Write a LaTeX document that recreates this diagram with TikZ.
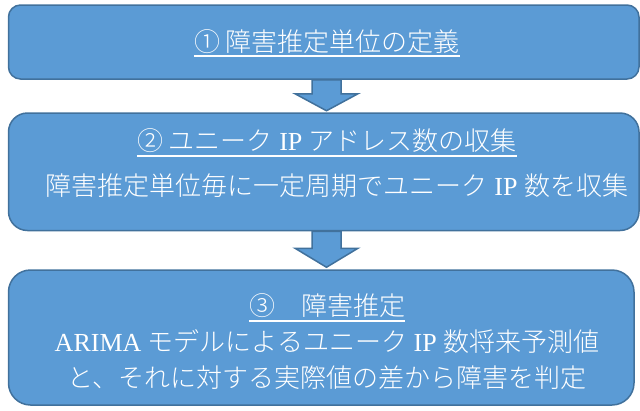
\documentclass[tikz,border=0pt]{standalone}
\usepackage{fontspec}
\setmainfont{Liberation Serif}
\newfontfamily\cjk{Noto Sans CJK JP Light}
\usetikzlibrary{calc}
\definecolor{boxfill}{HTML}{5B9BD5}
\definecolor{boxline}{HTML}{41719C}
\begin{document}
\begin{tikzpicture}[x=1pt,y=-1pt,
  box/.style={draw=boxline, fill=boxfill, line width=1.5pt, inner sep=0pt},
  txt/.style={text=white, inner sep=0pt, anchor=base, font=\fontsize{26}{30}\selectfont},
  uline/.style={white, line width=1.4pt},
  blockarrow/.style={draw=boxline, fill=boxfill, line width=1.5pt, line join=miter}]
\useasboundingbox (0,0) rectangle (640,410);
% boxes
\node[box, minimum width=630.5pt, minimum height=74pt, rounded corners=12pt] (b1) at (323.75,42) {};
\node[box, minimum width=630.5pt, minimum height=117.5pt, rounded corners=19pt] (b2) at (323.75,171.75) {};
\node[box, minimum width=625.5pt, minimum height=135pt, rounded corners=22pt] (b3) at (321.25,337.5) {};
% arrows
\draw[blockarrow] let \p1=($(b1.south)+(2.75,0)$), \p2=($(b2.north)+(2.75,-1.5)$) in
  (\x1-14.5pt,\y1) -- (\x1+14.5pt,\y1) -- (\x1+14.5pt,\y2+17pt) -- (\x1+31.5pt,\y2+17pt)
  -- (\x1,\y2) -- (\x1-31.5pt,\y2+17pt) -- (\x1-14.5pt,\y2+17pt) -- cycle;
\draw[blockarrow] let \p1=($(b2.south)+(2.75,0)$), \p2=($(b3.north)+(5.25,-2)$) in
  (\x1-14.5pt,\y1) -- (\x1+14.5pt,\y1) -- (\x1+14.5pt,\y2+19pt) -- (\x1+31.5pt,\y2+19pt)
  -- (\x1,\y2) -- (\x1-31.5pt,\y2+19pt) -- (\x1-14.5pt,\y2+19pt) -- cycle;
% texts
\node[txt] (t1) at (327,51) {\cjk ①\ 障害推定単位の定義};
\draw[uline] ($(t1.base west)+(0,5)$) -- ($(t1.base east)+(0,5)$);
\node[txt] (t2) at (327,150) {{\cjk ②\ ユニーク} IP {\cjk アドレス数の収集}};
\draw[uline] ($(t2.base west)+(0,6)$) -- ($(t2.base east)+(0,6)$);
\node[txt] (t2b) at (337,195) {{\cjk 障害推定単位毎に一定周期でユニーク} IP {\cjk 数を収集}};
\node[txt] (t3) at (327,315) {\cjk ③　障害推定};
\draw[uline] ($(t3.base west)+(0,6)$) -- ($(t3.base east)+(0,6)$);
\node[txt] (t3b) at (327,351) {ARIMA {\cjk モデルによるユニーク} IP {\cjk 数将来予測値}};
\node[txt] (t3c) at (327,387) {\cjk と、それに対する実際値の差から障害を判定};
\end{tikzpicture}
\end{document}
